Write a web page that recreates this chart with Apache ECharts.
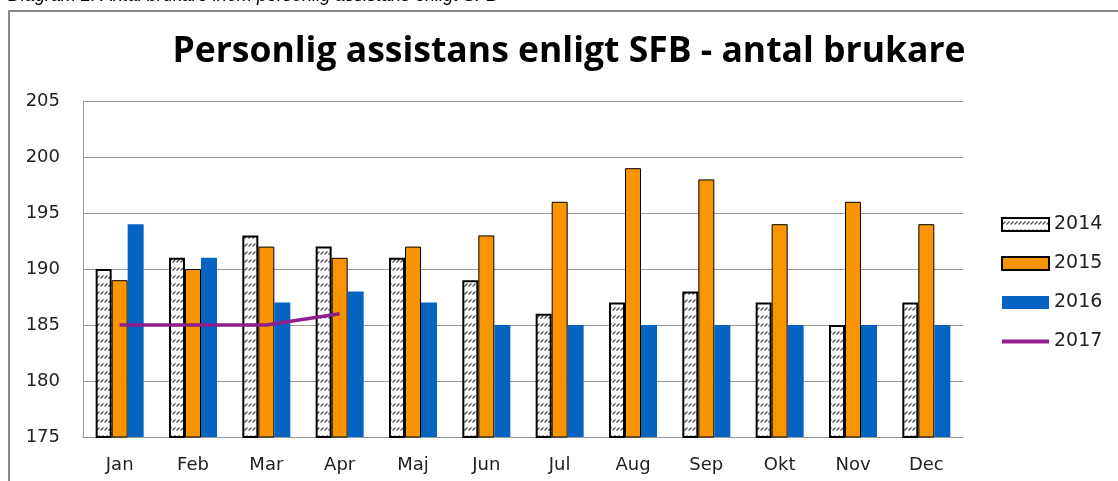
<!DOCTYPE html>
<html><head><meta charset="utf-8">
<script src="https://cdn.jsdelivr.net/npm/echarts@6/dist/echarts.min.js"></script>
<style>html,body{margin:0;padding:0;background:#fff}#c{width:1118px;height:481px}</style>
</head><body><div id="c"></div>
<script>
const categories = ['Jan','Feb','Mar','Apr','Maj','Jun','Jul','Aug','Sep','Okt','Nov','Dec'];
const s2014 = [190,191,193,192,191,189,186,187,188,187,185,187];
const s2015 = [189,190,192,191,192,193,196,199,198,194,196,194];
const s2016 = [194,191,187,188,187,185,185,185,185,185,185,185];
const s2017 = [185,185,185,186];
const yTicks = [175,180,185,190,195,200,205];
const titleText = 'Personlig assistans enligt SFB - antal brukare';

const pc = document.createElement('canvas');
pc.width = 4; pc.height = 8;
const g = pc.getContext('2d');
g.fillStyle = '#fff'; g.fillRect(0,0,4,8);
g.strokeStyle = '#444'; g.lineWidth = 1.1;
g.beginPath(); g.moveTo(0.5,6.5); g.lineTo(3.5,3.5); g.stroke();
const hatch = {image: pc, repeat: 'repeat'};

const font = '"DejaVu Sans", "Open Sans", sans-serif';
const chart = echarts.init(document.getElementById('c'), null, {renderer:'canvas'});
chart.setOption({
  animation:false,
  backgroundColor:'#fff',
  graphic:[
    {type:'rect', shape:{x:9,y:11,width:1130,height:500}, style:{fill:'none', stroke:'#888', lineWidth:2}},
    {type:'text', left:8, top:-13, style:{text:'Diagram 2. Antal brukare inom personlig assistans enligt SFB', font:'italic 18px "Liberation Sans", Arial', fill:'#000'}}
  ],
  title:{text:titleText, left:564, top:29, textAlign:'center',
    textStyle:{fontFamily:'"Open Sans", sans-serif', fontWeight:'bold', fontSize:35.5, color:'#000'}},
  grid:{left:83, right:155, top:101, bottom:44, containLabel:false},
  legend:{orient:'vertical', left:995, top:210, itemWidth:47, itemHeight:13, itemGap:20,
    textStyle:{fontFamily:font, fontSize:19, color:'#222', lineHeight:13},
    data:[{name:'2014', icon:'rect'},{name:'2015', icon:'rect'},{name:'2016', icon:'rect'},
      {name:'2017', itemStyle:{opacity:0}, lineStyle:{width:4}}]},
  xAxis:{type:'category', data:categories,
    axisLine:{lineStyle:{color:'#999', width:1}}, axisTick:{show:false},
    axisLabel:{fontFamily:font, fontSize:18, color:'#222', margin:19}},
  yAxis:{type:'value', min:yTicks[0], max:yTicks[yTicks.length-1], interval:5,
    axisLine:{show:true, lineStyle:{color:'#999'}}, axisTick:{show:false},
    splitLine:{lineStyle:{color:'#999', width:1}},
    axisLabel:{fontFamily:font, fontSize:18, color:'#222', margin:23}},
  series:[
    {name:'2014', type:'bar', data:s2014, barWidth:16, barGap:'0%',
      itemStyle:{color:hatch, borderColor:'#000', borderWidth:2}},
    {name:'2015', type:'bar', data:s2015, barWidth:16, barGap:'0%',
      itemStyle:{color:'#F79400', borderColor:'#000', borderWidth:1}},
    {name:'2016', type:'bar', data:s2016, barWidth:16, barGap:'0%',
      itemStyle:{color:'#0563C1'}},
    {name:'2017', type:'line', data:s2017, symbol:'none', z:5,
      lineStyle:{color:'#8E1F8C', width:3.5}, itemStyle:{color:'#8E1F8C'}}
  ]
});
</script></body></html>
